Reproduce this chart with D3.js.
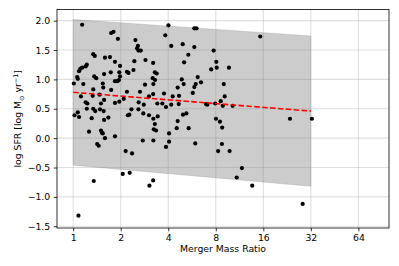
<!DOCTYPE html>
<html lang="en">
<head>
    <meta charset="UTF-8">
    <script src="https://d3js.org/d3.v7.min.js"></script>
    <title>SFR vs Merger Mass Ratio</title>
    <style>
        body { margin: 0; background: #fff; }
        svg { display: block; font-family: "DejaVu Sans", sans-serif; }
    </style>
</head>
<body>
    <div id="chart"></div>

    <script>
        // merger mass ratio (x) and log SFR (y) for each galaxy
        const ratio = [
            1.14, 1.74, 1.80, 1.92, 2.48, 2.57, 2.54, 2.59, 2.68, 1.34, 1.37, 1.59, 1.71, 1.84, 2.44, 2.87,
            1.98, 1.11, 1.14, 1.20, 1.22, 1.09, 1.36, 1.40, 1.57, 1.73, 1.96, 1.98, 2.19, 2.24, 2.41, 1.06,
            1.07, 1.01, 1.16, 1.54, 1.84, 1.91, 1.95, 1.34, 1.55, 1.74, 2.85, 1.12, 1.20, 1.23, 1.33, 1.47,
            1.50, 1.57, 1.84, 1.96, 2.09, 2.19, 2.60, 2.80, 2.65, 1.02, 1.07, 1.09, 1.22, 1.34, 1.38, 1.48,
            1.56, 1.31, 1.57, 1.67, 2.22, 2.27, 2.34, 2.59, 2.78, 1.26, 1.50, 1.52, 1.54, 1.59, 1.84, 1.42,
            1.45, 2.15, 2.36, 2.76, 1.35, 2.06, 2.28, 1.08, 4.01, 5.85, 6.04, 3.83, 4.18, 4.94, 5.85, 7.76,
            5.36, 5.04, 8.06, 8.11, 7.48, 3.21, 3.29, 3.38, 3.19, 3.30, 3.22, 4.87, 6.15, 5.01, 5.97, 5.85,
            6.45, 4.59, 8.99, 3.02, 3.21, 3.76, 4.27, 4.68, 5.72, 3.41, 3.67, 3.87, 4.18, 4.66, 6.94, 7.07,
            7.94, 8.86, 3.02, 3.22, 3.43, 3.29, 4.96, 5.21, 4.59, 4.53, 5.39, 8.02, 8.50, 8.78, 3.24, 3.35,
            4.05, 3.22, 4.05, 3.87, 5.93, 8.75, 8.28, 3.21, 3.04, 15.3, 9.69, 9.11, 8.60, 10.23, 23.6, 32.5,
            9.79, 11.71, 10.85, 13.61, 28.4
        ];
        const logSfr = [
            1.93, 1.79, 1.81, 1.69, 1.67, 1.57, 1.53, 1.49, 1.49, 1.43, 1.40, 1.37, 1.38, 1.30, 1.31, 1.33,
            1.23, 1.18, 1.20, 1.22, 1.25, 1.14, 1.05, 1.02, 1.09, 1.12, 1.12, 1.05, 1.13, 1.11, 1.16, 1.04,
            1.01, 0.93, 0.92, 0.93, 0.97, 0.97, 0.99, 0.83, 0.86, 0.82, 0.91, 0.71, 0.61, 0.59, 0.72, 0.74,
            0.59, 0.65, 0.60, 0.62, 0.67, 0.79, 0.61, 0.57, 0.79, 0.39, 0.44, 0.36, 0.50, 0.50, 0.46, 0.49,
            0.46, 0.34, 0.31, 0.35, 0.39, 0.40, 0.49, 0.49, 0.42, 0.11, 0.13, 0.09, 0.08, 0.00, 0.03, -0.10,
            -0.13, -0.22, -0.26, -0.04, -0.73, -0.61, -0.59, -1.32, 1.92, 1.87, 1.87, 1.75, 1.57, 1.60, 1.55, 1.49,
            1.42, 1.29, 1.30, 1.20, 1.17, 1.28, 1.12, 1.10, 1.02, 0.99, 0.92, 1.00, 1.04, 0.92, 0.92, 0.87,
            0.95, 0.86, 0.92, 0.71, 0.75, 0.76, 0.71, 0.72, 0.77, 0.59, 0.59, 0.53, 0.57, 0.58, 0.58, 0.57,
            0.59, 0.55, 0.39, 0.33, 0.37, 0.24, 0.40, 0.42, 0.29, 0.17, 0.17, 0.33, 0.28, 0.18, 0.15, 0.13,
            0.08, -0.04, -0.06, -0.15, -0.09, -0.10, -0.22, -0.72, -0.81, 1.73, 1.20, 0.71, 0.63, 0.55, 0.33, 0.33,
            -0.22, -0.51, -0.67, -0.81, -1.12
        ];

        // linear fit and its scatter band (ends at ratio 1 and 32)
        const fitRatio = [1, 32];
        const fitSfr = [0.78, 0.46];
        const bandUpper = [2.02, 1.74];
        const bandLower = [-0.46, -0.82];

        const xTicks = [1, 2, 4, 8, 16, 32, 64];
        const yTicks = [-1.5, -1.0, -0.5, 0.0, 0.5, 1.0, 1.5, 2.0];

        const width = 399, height = 266;
        const margin = { top: 9.5, right: 10, bottom: 38, left: 57 };

        const svg = d3.select('#chart')
            .append('svg')
            .attr('width', width)
            .attr('height', height);

        const x = d3.scaleLog().base(2)
            .domain([0.79, 100])
            .range([margin.left, width - margin.right]);

        const y = d3.scaleLinear()
            .domain([-1.53, 2.19])
            .range([height - margin.bottom, margin.top]);

        // grid
        svg.append('g')
            .selectAll('line')
            .data(xTicks)
            .join('line')
            .attr('x1', d => x(d)).attr('x2', d => x(d))
            .attr('y1', margin.top).attr('y2', height - margin.bottom)
            .attr('stroke', '#b0b0b0').attr('stroke-opacity', 0.4).attr('stroke-width', 1.1);

        svg.append('g')
            .selectAll('line')
            .data(yTicks)
            .join('line')
            .attr('x1', margin.left).attr('x2', width - margin.right)
            .attr('y1', d => y(d)).attr('y2', d => y(d))
            .attr('stroke', '#b0b0b0').attr('stroke-opacity', 0.4).attr('stroke-width', 1.1);

        // shaded band
        const band = fitRatio.map((r, i) => ({ r, hi: bandUpper[i], lo: bandLower[i] }));
        svg.append('path')
            .datum(band)
            .attr('d', d3.area().x(d => x(d.r)).y0(d => y(d.lo)).y1(d => y(d.hi)))
            .attr('fill', 'gray')
            .attr('fill-opacity', 0.4)
            .attr('stroke', 'gray')
            .attr('stroke-opacity', 0.4)
            .attr('stroke-width', 0.6);

        // points
        svg.append('g')
            .selectAll('circle')
            .data(ratio.map((r, i) => [r, logSfr[i]]))
            .join('circle')
            .attr('cx', d => x(d[0]))
            .attr('cy', d => y(d[1]))
            .attr('r', 2.1)
            .attr('fill', '#000');

        // fit line
        svg.append('path')
            .datum(fitRatio.map((r, i) => [r, fitSfr[i]]))
            .attr('d', d3.line().x(d => x(d[0])).y(d => y(d[1])))
            .attr('fill', 'none')
            .attr('stroke', 'red')
            .attr('stroke-width', 1.6)
            .attr('stroke-dasharray', '5.5,2.4');

        // axes
        const xAxis = svg.append('g')
            .attr('transform', `translate(0,${height - margin.bottom})`)
            .call(d3.axisBottom(x).tickValues(xTicks).tickFormat(d3.format('d')).tickSize(3.3).tickPadding(3.5));

        const yAxis = svg.append('g')
            .attr('transform', `translate(${margin.left},0)`)
            .call(d3.axisLeft(y).tickValues(yTicks).tickFormat(d3.format('.1f')).tickSize(3.3).tickPadding(3.5));

        [xAxis, yAxis].forEach(g => {
            g.select('.domain').remove();
            g.selectAll('.tick line').attr('stroke', '#000').attr('stroke-width', 0.8);
            g.selectAll('.tick text')
                .attr('fill', '#000')
                .style('font-size', '9.3px')
                .style('font-family', '"DejaVu Sans", sans-serif');
        });

        // frame
        svg.append('rect')
            .attr('x', margin.left)
            .attr('y', margin.top)
            .attr('width', width - margin.left - margin.right)
            .attr('height', height - margin.top - margin.bottom)
            .attr('fill', 'none')
            .attr('stroke', '#000')
            .attr('stroke-width', 0.8);

        // labels
        svg.append('text')
            .attr('x', (margin.left + width - margin.right) / 2)
            .attr('y', 252)
            .attr('text-anchor', 'middle')
            .style('font-size', '9.3px')
            .text('Merger Mass Ratio');

        const ylab = svg.append('text')
            .attr('transform', `translate(21,${(margin.top + height - margin.bottom) / 2}) rotate(-90)`)
            .attr('text-anchor', 'middle')
            .style('font-size', '9.3px');
        ylab.append('tspan').text('log SFR [log M');
        ylab.append('tspan').attr('dy', 2.5).style('font-size', '6.5px').text('\u2299');
        ylab.append('tspan').attr('dy', -2.5).text(' yr');
        ylab.append('tspan').attr('dy', -3.5).style('font-size', '6.5px').text('\u22121');
        ylab.append('tspan').attr('dy', 3.5).text(']');
    </script>
</body>
</html>
